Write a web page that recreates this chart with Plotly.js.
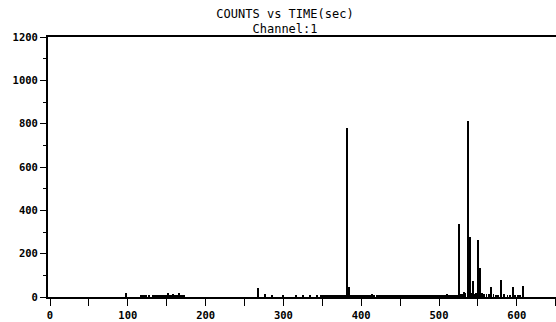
<!DOCTYPE html>
<html>
<head>
<meta charset="utf-8">
<script src="https://cdn.plot.ly/plotly-3.0.1.min.js"></script>
<style>html,body{margin:0;padding:0;background:#fff}#chart{width:556px;height:322px}</style>
</head>
<body>
<div id="chart"></div>
<script>
// Time (sec) of each bin and counts
const times = [
  98,
  117, 119, 121, 123, 127,
  132, 134, 136, 138, 140, 142, 144, 146, 148, 150,
  152, 154, 156, 158, 160, 162, 164, 166, 168, 170, 172,
  267, 276, 285, 299, 316, 325, 334, 343,
  348, 350, 352, 354, 356, 358, 360, 362, 364, 366, 368, 370, 372, 374, 376, 378, 380,
  382, 384,
  386, 388, 390, 392, 394, 396, 398, 400, 402, 404, 406, 408, 410, 412, 414, 416,
  420, 422, 424, 426, 428, 430, 432, 434, 436, 438, 440, 442, 444, 446, 448, 450,
  452, 454, 456, 458, 460, 462, 464, 466, 468, 470, 472, 474, 476, 478, 480, 482,
  484, 486, 488, 490, 492, 494, 496, 498, 500, 502, 504, 506, 508, 510, 512, 514,
  516, 518, 520, 522, 524,
  526, 528, 530, 532, 534, 537, 540, 542, 544, 546, 548, 550, 553, 555, 558, 561,
  564, 567, 570, 573, 576, 580, 584, 588, 591, 595, 598, 601, 604, 608
];
const counts = [
  18,
  9, 9, 9, 9, 9,
  9, 9, 9, 9, 9, 9, 9, 9, 9, 9,
  18, 10, 10, 16, 10, 10, 10, 20, 10, 9, 9,
  40, 12, 10, 9, 9, 8, 9, 10,
  8, 9, 8, 8, 9, 8, 8, 9, 8, 8, 9, 8, 8, 9, 8, 8, 9,
  780, 45,
  9, 8, 8, 9, 8, 8, 9, 8, 8, 9, 8, 8, 9, 8, 12, 8,
  8, 9, 8, 8, 9, 8, 8, 9, 8, 8, 9, 8, 8, 9, 8, 8,
  9, 8, 8, 9, 8, 8, 9, 8, 8, 9, 8, 8, 9, 8, 8, 9,
  8, 8, 9, 8, 8, 9, 8, 8, 9, 8, 8, 9, 8, 14, 9, 8,
  9, 8, 9, 9, 10,
  335, 14, 16, 22, 17, 813, 275, 20, 75, 14, 17, 262, 135, 17, 14, 12,
  12, 45, 12, 10, 10, 80, 12, 10, 10, 45, 10, 10, 10, 50
];
const xTickVals = [0, 100, 200, 300, 400, 500, 600];
const xTickText = ['0', '100', '200', '300', '400', '500', '600'];
const yTickVals = [0, 200, 400, 600, 800, 1000, 1200];
const yTickText = ['0', '200', '400', '600', '800', '1000', '1200'];

const mono = 'DejaVu Sans Mono, Liberation Mono, monospace';

Plotly.newPlot('chart', [{
  type: 'bar',
  x: times,
  y: counts,
  width: 2.4,
  marker: {color: '#000', line: {width: 0}},
  hoverinfo: 'skip'
}], {
  width: 556, height: 322,
  margin: {l: 48, r: 0, t: 37, b: 25, pad: 0},
  paper_bgcolor: '#fff', plot_bgcolor: '#fff',
  showlegend: false,
  bargap: 0,
  title: {
    text: 'COUNTS vs TIME(sec)<br>Channel:1',
    font: {family: mono, size: 12, color: '#000'},
    x: 0.5126, xref: 'container', xanchor: 'center',
    y: 0.945, yref: 'container', yanchor: 'top'
  },
  xaxis: {
    range: [-2.6, 650.4],
    tickmode: 'array', tickvals: xTickVals, ticktext: xTickText,
    ticks: 'outside', ticklen: 7, tickwidth: 1, tickcolor: '#000',
    minor: {tickmode: 'linear', tick0: 0, dtick: 50, ticks: 'outside', ticklen: 7, tickwidth: 1, tickcolor: '#000', showgrid: false},
    showline: true, linewidth: 2, linecolor: '#000', mirror: true,
    showgrid: false, zeroline: false,
    tickfont: {family: mono, size: 10.5, color: '#000', weight: 'bold'}
  },
  yaxis: {
    range: [0, 1200],
    tickmode: 'array', tickvals: yTickVals, ticktext: yTickText,
    ticks: 'outside', ticklen: 6, tickwidth: 1, tickcolor: '#000',
    minor: {tickmode: 'linear', tick0: 0, dtick: 100, ticks: 'outside', ticklen: 3, tickwidth: 1, tickcolor: '#000', showgrid: false},
    showline: true, linewidth: 2, linecolor: '#000', mirror: false,
    showgrid: false, zeroline: false,
    tickfont: {family: mono, size: 10.5, color: '#000', weight: 'bold'}
  }
}, {staticPlot: true, displayModeBar: false});
</script>
</body>
</html>
